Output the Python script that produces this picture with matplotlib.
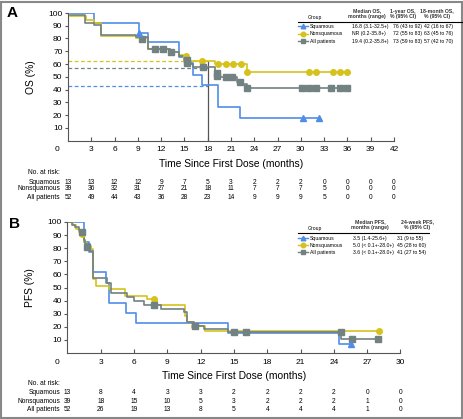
import matplotlib
matplotlib.use("Agg")
import matplotlib.pyplot as plt
from matplotlib.lines import Line2D
from matplotlib.patches import Rectangle
from matplotlib import transforms

plt.rcParams['font.family'] = ['Liberation Sans', 'DejaVu Sans']

# -------------------------------
# Daten Panel A (OS)
# -------------------------------
groups = ["Squamous", "Nonsquamous", "All patients"]

sq_os_t = [0.3, 3.4, 9.2, 10.3, 14.3, 15.3, 16.1, 17.2, 19.3, 22.2, 32.4]
sq_os_s = [100, 92.3, 84.6, 76.9, 65.6, 61.0, 51.4, 43.5, 26.0, 18.0, 18.0]
ns_os_t = [0.3, 2.3, 3.3, 4.3, 8.8, 10.3, 13.2, 14.3, 15.4, 18.9, 23.0, 36.0]
ns_os_s = [97.4, 94.9, 92.3, 82.0, 80.0, 72.0, 69.5, 67.0, 62.7, 60.0, 54.0, 54.0]
all_os_t = [0.3, 2.2, 3.3, 4.2, 8.8, 10.3, 13.2, 14.3, 14.9, 15.5, 16.1, 18.9, 19.3, 21.8, 22.6, 23.0, 36.0]
all_os_s = [98.1, 92.3, 90.4, 82.7, 80.8, 71.7, 69.3, 66.6, 63.2, 60.0, 57.5, 54.0, 49.6, 46.0, 44.3, 41.5, 41.5]

sq_os_cens_t = [9.2, 30.3, 32.3]
sq_os_cens_s = [84.6, 18.0, 18.0]
ns_os_cens_t = [15.2, 17.2, 19.3, 20.4, 21.3, 22.3, 23.1, 31.0, 32.0, 34.1, 35.1, 36.0]
ns_os_cens_s = [66.6, 62.7, 60, 60, 60, 60, 54, 54, 54, 54, 54, 54]
all_os_cens_t = [9.5, 11.2, 12.2, 13.3, 15.3, 15.3, 17.4, 19.2, 19.2, 20.3, 21.1, 22.2, 23.1,
                 30.1, 31.0, 31.9, 33.9, 35.0, 35.9]
all_os_cens_s = [79.5, 71.7, 71.7, 69.3, 63.5, 61.0, 57.5, 53.0, 50.5, 49.6, 49.6, 46.0, 41.5,
                 41.5, 41.5, 41.5, 41.5, 41.5, 41.5]

os18_month = 18
os18_values = [42.8, 62.7, 56.5]  # Squamous, Nonsquamous, All

os_risk_times = list(range(0, 43, 3))
os_risk = [
    [13, 13, 12, 12, 9, 7, 5, 3, 2, 2, 2, 0, 0, 0, 0],
    [39, 36, 32, 31, 27, 21, 18, 11, 7, 7, 7, 5, 0, 0, 0],
    [52, 49, 44, 43, 36, 28, 23, 14, 9, 9, 9, 5, 0, 0, 0],
]

os_table_head = ["Group", "Median OS,\nmonths (range)", "1-year OS,\n% (95% CI)", "18-month OS,\n% (95% CI)"]
os_table = [
    ["16.8 (3.1-32.5+)", "76 (43 to 92)", "42 (16 to 67)"],
    ["NR (0.2-35.8+)", "72 (55 to 83)", "63 (45 to 76)"],
    ["19.4 (0.2-35.8+)", "73 (59 to 83)", "57 (42 to 70)"],
]

# -------------------------------
# Daten Panel B (PFS)
# -------------------------------
sq_pfs_t = [0, 1.45, 1.9, 2.3, 3.5, 3.7, 5.3, 6.2, 14.5, 24.5, 25.5]
sq_pfs_s = [100, 84.6, 76.9, 61.5, 53.8, 38.5, 30.8, 23.1, 15.4, 6.5, 6.5]
ns_pfs_t = [0, 0.5, 0.8, 1.0, 1.3, 1.5, 1.7, 2.1, 2.3, 2.6, 3.7, 5.2, 7.2, 8.1, 10.6, 10.8, 11.3, 12.4, 28.1]
ns_pfs_s = [100, 97.4, 94.9, 92.3, 89.7, 84.6, 82.0, 79.5, 56.4, 51.3, 48.7, 43.6, 41.0, 37.0, 28.0, 23.5, 20.5, 16.5, 16.5]
all_pfs_t = [0, 0.4, 0.7, 1.0, 1.3, 1.5, 1.6, 2.0, 2.3, 3.6, 3.9, 5.4, 6.0, 6.9, 8.4, 10.5, 10.8, 11.4, 12.3, 14.5, 24.6, 28.0]
all_pfs_s = [100, 98, 96, 94, 92, 86, 83, 78, 57.6, 53.8, 46, 42.4, 39.4, 36.4, 33.5, 31.0, 24, 20.5, 18.2, 16, 10.6, 10.6]

sq_pfs_cens_t = [25.5]
sq_pfs_cens_s = [6.5]
ns_pfs_cens_t = [1.3, 7.8, 11.4, 28.1]
ns_pfs_cens_s = [90.5, 41.0, 20.5, 16.5]
all_pfs_cens_t = [1.3, 1.8, 7.8, 11.5, 15.0, 16.1, 24.6, 25.6, 28.0]
all_pfs_cens_s = [92.5, 81.0, 36.4, 20.5, 16.0, 16.0, 16.0, 10.6, 10.6]

pfs_risk_times = list(range(0, 31, 3))
pfs_risk = [
    [13, 8, 4, 3, 3, 2, 2, 2, 2, 0, 0],
    [39, 18, 15, 10, 5, 3, 2, 2, 2, 1, 0],
    [52, 26, 19, 13, 8, 5, 4, 4, 4, 1, 0],
]

pfs_table_head = ["Group", "Median PFS,\nmonths (range)", "24-week PFS,\n% (95% CI)"]
pfs_table = [
    ["3.5 (1.4-25.6+)", "31 (9 to 55)"],
    ["5.0 (< 0.1+-28.0+)", "45 (28 to 60)"],
    ["3.6 (< 0.1+-28.0+)", "41 (27 to 54)"],
]

# -------------------------------
# Stil
# -------------------------------
colors = ["#4f8de6", "#d6c21c", "#728181"]
markers = ["^", "o", "s"]
TAB_FS = 3.7
RISK_FS = 4.8

W, H = 464, 419
def fx(px):
    return px / W
def fy(py):
    return 1 - py / H

fig = plt.figure(figsize=(W / 100, H / 100), dpi=100)


def km_panel(rect, curves, cens, xmax, ylabel, letter, letter_xy):
    ax = fig.add_axes(rect)
    order = [1, 2, 0]  # gelb, grau, blau
    for i in order:
        t, s = curves[i]
        ax.step(t, s, where='post', color=colors[i], lw=1.2, zorder=2 + i * 0.1)
    for i in order:
        ct, cs = cens[i]
        ax.plot(ct, cs, ls='none', marker=markers[i], color=colors[i], ms=4.0,
                mec=colors[i], zorder=3)
    ax.set_xlim(0, xmax)
    ax.set_ylim(0, 100)
    ax.set_xticks(range(3, xmax + 1, 3))
    ax.set_yticks(range(10, 101, 10))
    ax.spines['top'].set_visible(False)
    ax.spines['right'].set_visible(False)
    ax.spines['left'].set_color('#555555')
    ax.spines['bottom'].set_color('#555555')
    ax.tick_params(axis='x', direction='in', length=3, labelsize=6, pad=4, color='#555555')
    ax.tick_params(axis='y', direction='out', length=2, labelsize=6, pad=2, color='#555555')
    ax.text(-0.025, -0.07, "0", transform=ax.transAxes, ha='right', va='center', fontsize=6)
    ax.set_xlabel("Time Since First Dose (months)", fontsize=7.4, labelpad=4)
    ax.set_ylabel(ylabel, fontsize=7.4, labelpad=9)
    fig.text(fx(letter_xy[0]), fy(letter_xy[1]), letter, fontsize=11, fontweight='bold',
             ha='left', va='center')
    return ax


def risk_table(ax, times, risk, y_rows):
    tr = transforms.blended_transform_factory(ax.transData, fig.transFigure)
    fig.text(fx(60), fy(y_rows[0]), "No. at risk:", fontsize=RISK_FS, ha='right', va='center')
    for r, name in enumerate(groups):
        fig.text(fx(60), fy(y_rows[r + 1]), name, fontsize=RISK_FS, ha='right', va='center')
        for t, n in zip(times, risk[r]):
            ax.text(t, fy(y_rows[r + 1]), str(n), transform=tr, fontsize=RISK_FS,
                    ha='center', va='center', clip_on=False)


def legend_table(head, rows, col_x, head_y, line_y, line_x1, row_y):
    fig.text(fx(308), fy(head_y + 4), head[0], fontsize=TAB_FS, ha='left', va='center')
    for j, h in enumerate(head[1:]):
        fig.text(fx(col_x[j][1]), fy(head_y), h, fontsize=TAB_FS, ha='center', va='center',
                 linespacing=1.2, fontweight='bold', color='#333333')
    fig.add_artist(Line2D([fx(298), fx(line_x1)], [fy(line_y), fy(line_y)], color='black', lw=0.8))
    for r, name in enumerate(groups):
        y = fy(row_y[r])
        fig.add_artist(Line2D([fx(298), fx(308)], [y, y], color=colors[r], lw=1.0))
        fig.add_artist(Line2D([fx(303)], [y], marker=markers[r], color=colors[r], ms=3.3, ls='none'))
        fig.text(fx(310), y, name, fontsize=TAB_FS, ha='left', va='center')
        for j, val in enumerate(rows[r]):
            fig.text(fx(col_x[j][0]), y, val, fontsize=TAB_FS, ha='left', va='center')


# -------------------------------
# Panel A
# -------------------------------
axA = km_panel([fx(68), fy(140.5), 326 / W, 127.5 / H],
               [(sq_os_t, sq_os_s), (ns_os_t, ns_os_s), (all_os_t, all_os_s)],
               [(sq_os_cens_t, sq_os_cens_s), (ns_os_cens_t, ns_os_cens_s), (all_os_cens_t, all_os_cens_s)],
               42, "OS (%)", "A", (7, 13))
for i in [1, 2, 0]:
    axA.hlines(os18_values[i], 0, os18_month, colors=colors[i], linestyles=(0, (3, 2)), lw=0.9, zorder=1)
axA.vlines(os18_month, 0, max(os18_values), colors='#555555', lw=0.9, zorder=1)
risk_table(axA, os_risk_times, os_risk, [172, 182, 189, 197])
legend_table(os_table_head, os_table, [(352, 367), (393, 403), (424, 437)],
             14, 22.5, 462, [26.5, 34, 41])

# -------------------------------
# Panel B
# -------------------------------
axB = km_panel([fx(67.5), fy(353), 333 / W, 131 / H],
               [(sq_pfs_t, sq_pfs_s), (ns_pfs_t, ns_pfs_s), (all_pfs_t, all_pfs_s)],
               [(sq_pfs_cens_t, sq_pfs_cens_s), (ns_pfs_cens_t, ns_pfs_cens_s), (all_pfs_cens_t, all_pfs_cens_s)],
               30, "PFS (%)", "B", (9, 224))
risk_table(axB, pfs_risk_times, pfs_risk, [383, 392, 401, 409])
legend_table(pfs_table_head, pfs_table, [(353, 370), (397, 417)],
             224.5, 233, 429, [238.5, 245.5, 252])

fig.add_artist(Rectangle((0.002, 0.002), 0.994, 0.994, transform=fig.transFigure,
                         fill=False, edgecolor='#888888', lw=1.5))

plt.savefig("out.png", dpi=100)
